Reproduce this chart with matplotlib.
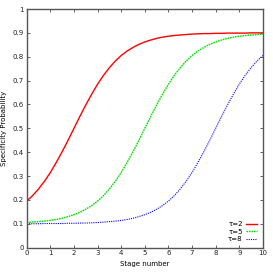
import matplotlib
matplotlib.use("Agg")
import matplotlib.pyplot as plt

stage = [i * 0.25 for i in range(41)]
tau2 = [0.195, 0.218, 0.246, 0.278, 0.315, 0.357, 0.402, 0.450, 0.500, 0.550, 0.598,
        0.643, 0.685, 0.722, 0.754, 0.782, 0.805, 0.824, 0.839, 0.852, 0.862, 0.870,
        0.877, 0.882, 0.886, 0.889, 0.891, 0.893, 0.895, 0.896, 0.897, 0.897, 0.898,
        0.898, 0.899, 0.899, 0.899, 0.899, 0.900, 0.900, 0.900]
tau5 = [0.105, 0.107, 0.109, 0.111, 0.114, 0.118, 0.123, 0.130, 0.138, 0.148, 0.161,
        0.176, 0.195, 0.218, 0.246, 0.278, 0.315, 0.357, 0.402, 0.450, 0.500, 0.550,
        0.598, 0.643, 0.685, 0.722, 0.754, 0.782, 0.805, 0.824, 0.839, 0.852, 0.862,
        0.870, 0.877, 0.882, 0.886, 0.889, 0.891, 0.893, 0.895]
tau8 = [0.100, 0.100, 0.100, 0.101, 0.101, 0.101, 0.101, 0.102, 0.102, 0.103, 0.103,
        0.104, 0.105, 0.107, 0.109, 0.111, 0.114, 0.118, 0.123, 0.130, 0.138, 0.148,
        0.161, 0.176, 0.195, 0.218, 0.246, 0.278, 0.315, 0.357, 0.402, 0.450, 0.500,
        0.550, 0.598, 0.643, 0.685, 0.722, 0.754, 0.782, 0.805]
labels = ["τ=2", "τ=5", "τ=8"]
xticks = list(range(0, 11))
yticks = [0, 0.1, 0.2, 0.3, 0.4, 0.5, 0.6, 0.7, 0.8, 0.9, 1]
ytick_labels = ["0", "0.1", "0.2", "0.3", "0.4", "0.5", "0.6", "0.7", "0.8", "0.9", "1"]

fig = plt.figure(figsize=(2.73, 2.73), dpi=100)
ax = fig.add_axes([0.098, 0.093, 0.865, 0.874])
ax.plot(stage, tau2, color="#ff0000", lw=1.0, ls="-", label=labels[0])
ax.plot(stage, tau5, color="#00e000", lw=1.0, ls=(0, (1.2, 0.6)), label=labels[1])
ax.plot(stage, tau8, color="#0000ff", lw=0.8, ls=(0, (1.0, 1.0)), label=labels[2])
ax.set_xlim(0, 10)
ax.set_ylim(0, 1)
ax.set_xticks(xticks)
ax.set_xticklabels([str(t) for t in xticks])
ax.set_yticks(yticks)
ax.set_yticklabels(ytick_labels)
ax.tick_params(direction="in", length=2.5, width=0.5, labelsize=5, top=True, right=True,
               pad=2, colors="#222222")
for s in ax.spines.values():
    s.set_color("#555555")
    s.set_linewidth(1.0)
ax.set_xlabel("Stage number", fontsize=5, labelpad=3)
ax.set_ylabel("Specificity Probability", fontsize=5, labelpad=4)
leg = ax.legend(loc="lower right", frameon=False, fontsize=5, markerfirst=False,
                handlelength=1.6, handletextpad=0.5, labelspacing=0.2,
                borderaxespad=0.4)
fig.savefig("out.png", dpi=100)
